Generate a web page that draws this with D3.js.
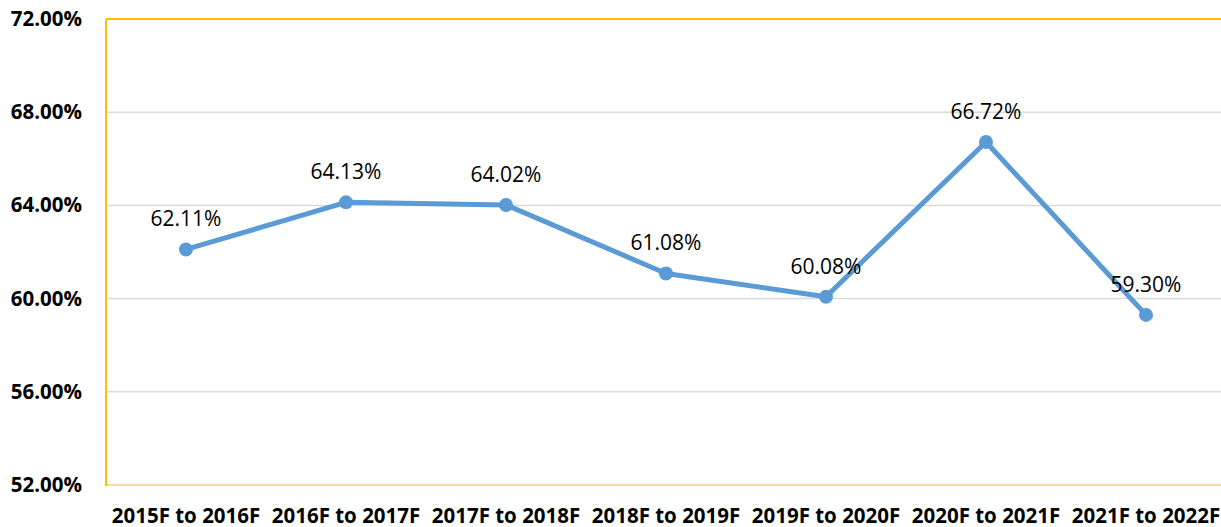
<!DOCTYPE html>
<html><head><meta charset="utf-8">
<script src="https://cdn.jsdelivr.net/npm/d3@7"></script>
<style>body{margin:0;background:#fff}svg{display:block}</style>
</head><body>
<svg id="c" width="1221" height="527"></svg>
<script>
const categories = ["2015F to 2016F","2016F to 2017F","2017F to 2018F","2018F to 2019F","2019F to 2020F","2020F to 2021F","2021F to 2022F"];
const values = [62.11, 64.13, 64.02, 61.08, 60.08, 66.72, 59.30];
const yTicks = [52, 56, 60, 64, 68, 72];

(function(){
const svg = d3.select("#c");
const mLeft = 106, mTop = 19, mBottom = 485, mRight = 1226;
const x = d3.scaleBand().domain(categories).range([mLeft, mRight]);
const y = d3.scaleLinear().domain([52, 72]).range([mBottom, mTop]);
const font = "'Open Sans', sans-serif";

// gridlines
svg.append("g").selectAll("line").data(yTicks.filter(t => t > 52 && t < 72)).join("line")
  .attr("x1", mLeft).attr("x2", 1221).attr("y1", d => y(d)).attr("y2", d => y(d))
  .attr("stroke", "#d9d9d9").attr("stroke-width", 1.5);

// border
svg.append("line").attr("x1", mLeft).attr("x2", 1221).attr("y1", mBottom).attr("y2", mBottom)
  .attr("stroke", "#f2d27a").attr("stroke-width", 1.5);
svg.append("line").attr("x1", mLeft).attr("x2", 1221).attr("y1", mTop).attr("y2", mTop)
  .attr("stroke", "#ffc000").attr("stroke-width", 2);
svg.append("line").attr("x1", mLeft).attr("x2", mLeft).attr("y1", mTop).attr("y2", mBottom + 1)
  .attr("stroke", "#ffc000").attr("stroke-width", 2);

// y axis labels
const yAxis = d3.axisLeft(y).tickValues(yTicks).tickSize(0).tickPadding(0).tickFormat(d => d.toFixed(2) + "%");
const ya = svg.append("g").attr("transform", "translate(82,0)").call(yAxis);
ya.select(".domain").remove();
ya.selectAll("text").attr("font-family", font).attr("font-weight", "bold").attr("font-size", 20.5).attr("fill", "#000");

// x axis labels
const xAxis = d3.axisBottom(x).tickSize(0).tickPadding(0);
const xa = svg.append("g").attr("transform", "translate(0,508)").call(xAxis);
xa.select(".domain").remove();
xa.selectAll("text").attr("font-family", font).attr("font-weight", "bold").attr("font-size", 20.5).attr("fill", "#000")
  .attr("dy", null).attr("y", 14.5);

const cx = d => x(d) + x.bandwidth() / 2;
const pts = categories.map((c, i) => ({c, v: values[i]}));

svg.append("path").datum(pts)
  .attr("d", d3.line().x(d => cx(d.c)).y(d => y(d.v)))
  .attr("fill", "none").attr("stroke", "#5b9bd5").attr("stroke-width", 5).attr("stroke-linejoin", "round");

svg.append("g").selectAll("circle").data(pts).join("circle")
  .attr("cx", d => cx(d.c)).attr("cy", d => y(d.v)).attr("r", 7).attr("fill", "#5b9bd5");

svg.append("g").selectAll("text").data(pts).join("text")
  .attr("x", d => cx(d.c)).attr("y", d => y(d.v) - 23)
  .attr("text-anchor", "middle").attr("font-family", font).attr("font-size", 21).attr("fill", "#000")
  .text(d => d.v.toFixed(2) + "%");
})();
</script>
</body></html>
